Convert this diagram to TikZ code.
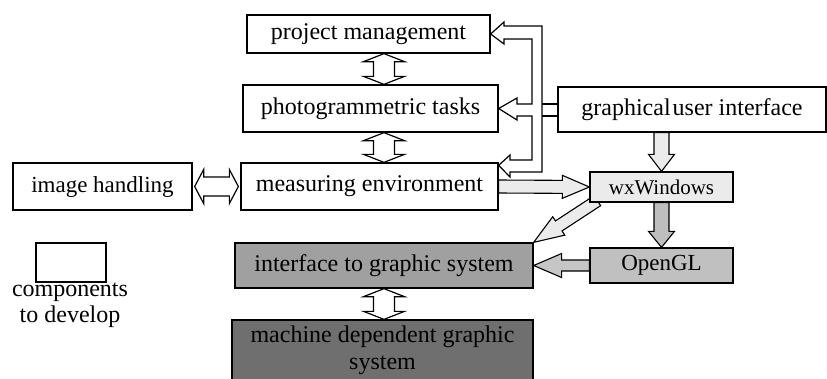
\documentclass[tikz,border=0pt]{standalone}
\usepackage{fontspec}
\setmainfont{Liberation Serif}
\usetikzlibrary{calc}
\pgfdeclarelayer{bg}
\pgfsetlayers{bg,main}

\definecolor{paleg}{HTML}{EBEBEB}
\definecolor{wxogl}{HTML}{BEBEBE}
\definecolor{oglg}{HTML}{C0C0C0}
\definecolor{oglarr}{HTML}{C6C6C6}
\definecolor{igsg}{HTML}{A0A0A0}
\definecolor{mdgg}{HTML}{6F6F6F}

\tikzset{
  box/.style={draw, line width=1.3pt, fill=white, inner sep=0pt,
    font=\fontsize{24}{27}\selectfont},
  hollow/.style={draw, line width=1.2pt, fill=white, line join=miter},
  arrowbody/.style={draw, line width=1.1pt, line join=miter},
}

% block arrow: [style]{from}{to}{shaft half}{head half}{head length}
\newcommand\blockarrow[6][]{%
  \coordinate (ba-a) at (#2);
  \coordinate (ba-b) at (#3);
  \coordinate (ba-c) at ($(ba-b)!#6!(ba-a)$);
  \draw[arrowbody,#1] ($(ba-a)!#4!90:(ba-b)$) -- ($(ba-c)!#4!-90:(ba-a)$)
    -- ($(ba-c)!#5!-90:(ba-a)$) -- (ba-b) -- ($(ba-c)!#5!90:(ba-a)$)
    -- ($(ba-c)!#4!90:(ba-a)$) -- ($(ba-a)!#4!-90:(ba-b)$) -- cycle;
}
% hollow double arrow: {from}{to}{shaft half}{head half}{head length}
\newcommand\dblarrow[5]{%
  \coordinate (da-a) at (#1);
  \coordinate (da-b) at (#2);
  \coordinate (da-c) at ($(da-a)!#5!(da-b)$);
  \coordinate (da-d) at ($(da-b)!#5!(da-a)$);
  \draw[hollow] (da-a) -- ($(da-c)!#4!90:(da-b)$) -- ($(da-c)!#3!90:(da-b)$)
    -- ($(da-d)!#3!-90:(da-a)$) -- ($(da-d)!#4!-90:(da-a)$) -- (da-b)
    -- ($(da-d)!#4!90:(da-a)$) -- ($(da-d)!#3!90:(da-a)$)
    -- ($(da-c)!#3!-90:(da-b)$) -- ($(da-c)!#4!-90:(da-b)$) -- cycle;
}

\begin{document}
\begin{tikzpicture}[x=1pt,y=-1pt]
\useasboundingbox (0,0) rectangle (827,378);
\clip (0,0) rectangle (827,378);

% boxes
\node[box, minimum width=243, minimum height=38] (pm) at (368.5,34) {project management};
\node[box, minimum width=255, minimum height=47] (pt) at (370.5,108.5) {photogrammetric tasks};
\node[box, minimum width=257, minimum height=47] (me) at (369.5,186.5) {measuring environment};
\node[box, minimum width=179, minimum height=47, font=\fontsize{23}{26}\selectfont] (ih) at (102.5,186.5) {image handling};
\node[box, minimum width=268, minimum height=45] (gui) at (692,109.5) {graphical\hspace{2pt}user interface};
\node[box, minimum width=143, minimum height=30, fill=paleg, font=\fontsize{21}{24}\selectfont] (wx) at (661.5,187) {wxWindows};
\node[box, minimum width=143, minimum height=35, fill=oglg, font=\fontsize{23}{26}\selectfont] (ogl) at (661.5,265.5) {OpenGL};
\node[box, minimum width=298, minimum height=45, fill=igsg] (igs) at (384,265.5) {interface to graphic system};
\node[box, minimum width=301, minimum height=60, fill=mdgg, align=center] (mdg) at (382.5,350) {machine dependent graphic\\system};

% legend
\node[box, minimum width=70, minimum height=39] (legend) at (71,262.5) {};
\node[align=center, inner sep=0pt, font=\fontsize{24}{26}\selectfont] (legtext) at (70,305) {components\\to develop};

% double arrows
\dblarrow{pm.south -| igs.north}{pt.north -| igs.north}{10.5pt}{20.5pt}{8pt}
\dblarrow{pt.south -| igs.north}{me.north -| igs.north}{10.5pt}{20.5pt}{8pt}
\dblarrow{igs.south}{mdg.north -| igs.south}{10.5pt}{20.5pt}{8pt}
\dblarrow{$(ih.east)+(2,0)$}{$(me.west)+(-2,0)$}{9.5pt}{17pt}{9pt}

% gui to the upper components
\draw[hollow] (pm.east) -- (504,22) -- (504,26) -- (542,26) -- (542,172)
  -- (510,172) -- (510,177) -- ($(me.north east)+(0,3)$) -- (510,155)
  -- (510,160) -- (532,160) -- (532,116) -- (517,116) -- (517,120)
  -- (pt.east) -- (517,98) -- (517,104) -- (532,104) -- (532,39)
  -- (504,39) -- (504,44) -- cycle;
\coordinate (bus1) at (542,104);
\coordinate (bus2) at (542,116);
\draw[line width=1.2pt] (bus1) -- (bus1 -| gui.west);
\draw[line width=1.2pt] (bus2) -- (bus2 -| gui.west);

% filled arrows
\blockarrow[fill=paleg]{gui.south -| wx.north}{wx.north}{7.5pt}{13pt}{17pt}
\blockarrow[fill=wxogl]{wx.south}{ogl.north}{7.5pt}{13pt}{16pt}
\blockarrow[fill=oglarr]{ogl.west}{igs.east}{5.5pt}{12pt}{28pt}
\blockarrow[fill=paleg]{me.east}{wx.west}{6.5pt}{11.5pt}{27pt}
\begin{pgfonlayer}{bg}
\blockarrow[fill=paleg]{$(wx.south west)+(8,-2)$}{igs.north east}{6pt}{11pt}{30pt}
\end{pgfonlayer}
\end{tikzpicture}
\end{document}
